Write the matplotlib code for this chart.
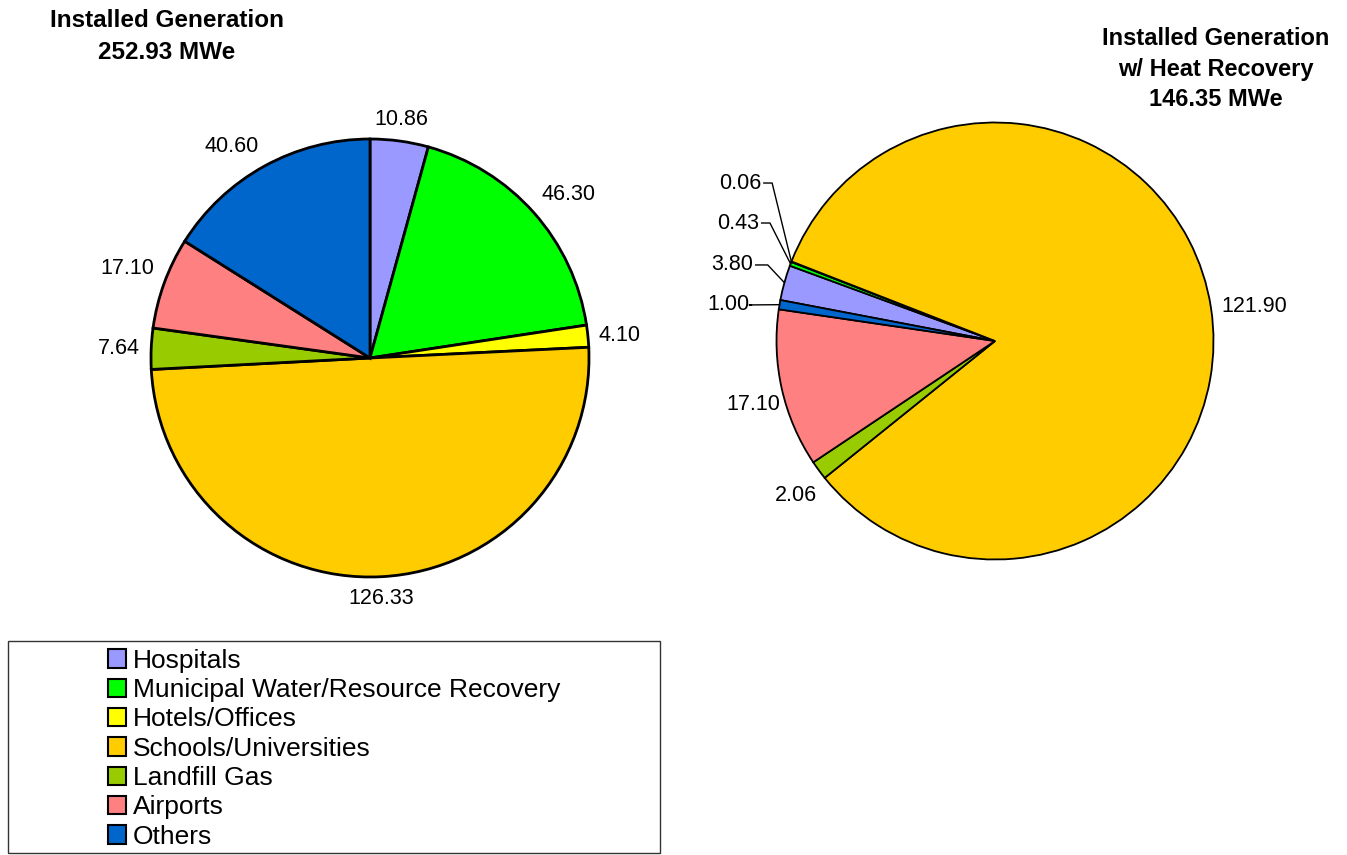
import numpy as np
import matplotlib
matplotlib.use("Agg")
import matplotlib.pyplot as plt
from matplotlib.patches import Patch, Rectangle

plt.rcParams['font.family'] = ['Liberation Sans', 'DejaVu Sans']

# ---------------- data ----------------
categories = ["Hospitals", "Municipal Water/Resource Recovery", "Hotels/Offices",
              "Schools/Universities", "Landfill Gas", "Airports", "Others"]
installed = [10.86, 46.30, 4.10, 126.33, 7.64, 17.10, 40.60]
heat_recovery = [3.80, 0.43, 0.06, 121.90, 2.06, 17.10, 1.00]
colors = ["#9999FF", "#00FF00", "#FFFF00", "#FFCC00", "#99CC00", "#FF8080", "#0066CC"]
title_left = ["Installed Generation", "252.93 MWe"]
title_right = ["Installed Generation", "w/ Heat Recovery", "146.35 MWe"]

# ---------------- layout ----------------
W, H = 1347, 855
fig = plt.figure(figsize=(W / 100, H / 100), dpi=100)
LABEL_FS = 15.5


def fx(px):
    return px / W


def fy(py):
    return 1 - py / H


def pie_axes(cx, cy, r):
    return fig.add_axes([fx(cx - r), fy(cy + r), 2 * r / W, 2 * r / H])


def place_label(ax, theta_deg, text, r=1.05, fs=LABEL_FS):
    t = np.deg2rad(theta_deg)
    c, s = np.cos(t), np.sin(t)
    ha = 'left' if c > 0.25 else ('right' if c < -0.25 else 'center')
    va = 'bottom' if s > 0.25 else ('top' if s < -0.25 else 'center')
    ax.text(r * c, r * s, text, ha=ha, va=va, fontsize=fs)


# Left pie
axL = pie_axes(370, 358, 219)
wedgesL, _ = axL.pie(installed, colors=colors, startangle=90, counterclock=False,
                     wedgeprops=dict(edgecolor='black', linewidth=2.0))
axL.set_xlim(-1, 1)
axL.set_ylim(-1, 1)
axL.set_aspect('equal')
axL.axis('off')
for w, v in zip(wedgesL, installed):
    place_label(axL, (w.theta1 + w.theta2) / 2, f"{v:.2f}")

# Right pie
axR = pie_axes(995, 341, 218.5)
wedgesR, _ = axR.pie(heat_recovery, colors=colors, startangle=169.2, counterclock=False,
                     wedgeprops=dict(edgecolor='black', linewidth=1.3))
axR.set_xlim(-1, 1)
axR.set_ylim(-1, 1)
axR.set_aspect('equal')
axR.axis('off')

# small slices with leader lines: (text right-edge x, text y, elbow x) in radius units
leader_layout = {
    2: (-1.068, 0.723, -1.02),
    1: (-1.078, 0.540, -1.03),
    0: (-1.105, 0.348, -1.04),
    6: (-1.125, 0.165, -1.125),
}
# extra nudges (radius units) for outside labels of the right pie
nudge_right = {5: (0.04, -0.06), 4: (0.03, -0.04)}
for i, (w, v) in enumerate(zip(wedgesR, heat_recovery)):
    mid = (w.theta1 + w.theta2) / 2
    if i in leader_layout:
        tx, ty, ex = leader_layout[i]
        px, py = np.cos(np.deg2rad(mid)), np.sin(np.deg2rad(mid))
        axR.plot([tx + 0.01, ex, px], [ty, ty, py], color='black', lw=1.0,
                 clip_on=False, zorder=5)
        axR.text(tx, ty, f"{v:.2f}", ha='right', va='center', fontsize=LABEL_FS)
    else:
        t = np.deg2rad(mid)
        c, s = np.cos(t), np.sin(t)
        dx, dy = nudge_right.get(i, (0, 0))
        ha = 'left' if c > 0.25 else ('right' if c < -0.25 else 'center')
        va = 'bottom' if s > 0.25 else ('top' if s < -0.25 else 'center')
        axR.text(1.05 * c + dx, 1.05 * s + dy, f"{v:.2f}", ha=ha, va=va,
                 fontsize=LABEL_FS)

# Titles
for txt, yb in zip(title_left, [27, 59]):
    fig.text(fx(167), fy(yb), txt, ha='center', va='baseline', fontsize=17.5,
             fontweight='bold')
for txt, yb in zip(title_right, [45, 76, 106]):
    fig.text(fx(1216), fy(yb), txt, ha='center', va='baseline', fontsize=17,
             fontweight='bold')

# Legend frame
fig.patches.append(Rectangle((fx(8), fy(853)), fx(660) - fx(8), fy(641) - fy(853),
                             transform=fig.transFigure, fill=False,
                             edgecolor='#333333', linewidth=1.0))
handles = [Patch(facecolor=c, edgecolor='black', linewidth=1.5) for c in colors]
fig.legend(handles, categories, loc='upper left',
           bbox_to_anchor=(fx(100), fy(641)), frameon=False, fontsize=19,
           handlelength=0.7, handleheight=0.7, handletextpad=0.25,
           labelspacing=0.2, borderaxespad=0, borderpad=0.3)

fig.savefig("out.png", dpi=100)
